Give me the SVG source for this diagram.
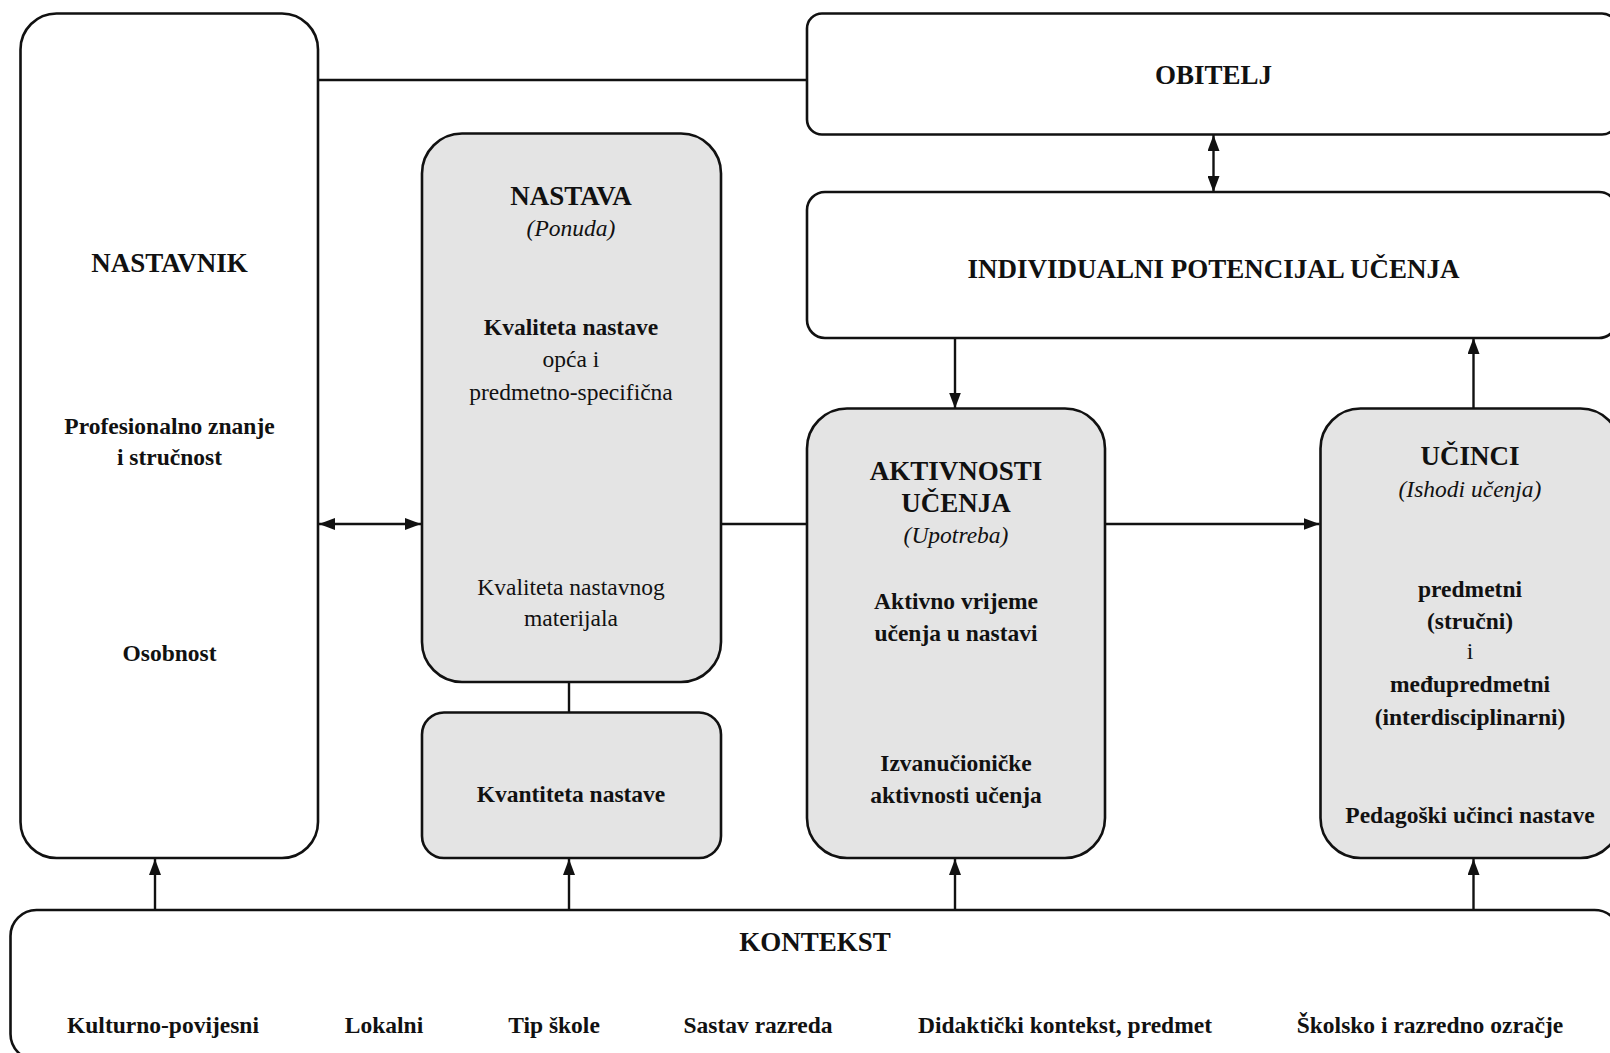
<svg xmlns="http://www.w3.org/2000/svg" width="1610" height="1053" viewBox="0 0 1610 1053">
  <defs>
    <marker id="arrow" viewBox="0 0 16 12" refX="16" refY="6" markerWidth="16" markerHeight="12" markerUnits="userSpaceOnUse" orient="auto-start-reverse">
      <path d="M0,0 L16,6 L0,12 z" fill="#111"/>
    </marker>
  </defs>
  <style>
    .box { fill: #ffffff; stroke: #111; stroke-width: 2.6; }
    .grey { fill: #e4e4e4; stroke: #111; stroke-width: 2.6; }
    .conn { stroke: #111; stroke-width: 2.4; fill: none; }
    text { font-family: "Liberation Serif", "Times New Roman", serif; fill: #111; text-anchor: middle; }
    .title { font-size: 27px; font-weight: bold; }
    .b { font-size: 23.5px; font-weight: bold; }
    .r { font-size: 23.5px; }
    .i { font-size: 23.5px; font-style: italic; }
  </style>

  <rect width="1610" height="1053" fill="#ffffff"/>

  <!-- connectors -->
  <g id="connectors">
    <line class="conn" x1="318" y1="80" x2="807" y2="80"/>
    <line class="conn" x1="1213.5" y1="135" x2="1213.5" y2="192" marker-start="url(#arrow)" marker-end="url(#arrow)"/>
    <line class="conn" x1="955" y1="338" x2="955" y2="408.5" marker-end="url(#arrow)"/>
    <line class="conn" x1="1473.5" y1="408.5" x2="1473.5" y2="338" marker-end="url(#arrow)"/>
    <line class="conn" x1="319" y1="524" x2="421" y2="524" marker-start="url(#arrow)" marker-end="url(#arrow)"/>
    <line class="conn" x1="721" y1="524" x2="807" y2="524"/>
    <line class="conn" x1="1105" y1="524" x2="1319.5" y2="524" marker-end="url(#arrow)"/>
    <line class="conn" x1="569" y1="682" x2="569" y2="712.5"/>
    <line class="conn" x1="155" y1="910" x2="155" y2="859" marker-end="url(#arrow)"/>
    <line class="conn" x1="569" y1="910" x2="569" y2="859" marker-end="url(#arrow)"/>
    <line class="conn" x1="955" y1="910" x2="955" y2="859" marker-end="url(#arrow)"/>
    <line class="conn" x1="1473.5" y1="910" x2="1473.5" y2="859" marker-end="url(#arrow)"/>
  </g>

  <!-- teacher -->
  <g id="nastavnik">
    <rect class="box" x="20.5" y="13.5" width="297.5" height="844.5" rx="36" ry="36"/>
    <text class="title" x="169.5" y="272">NASTAVNIK</text>
    <text class="b" x="169.5" y="433.5">Profesionalno znanje</text>
    <text class="b" x="169.5" y="465">i stručnost</text>
    <text class="b" x="169.5" y="661">Osobnost</text>
  </g>

  <!-- instruction (offer) -->
  <g id="nastava">
    <rect class="grey" x="422" y="133.5" width="299" height="548.5" rx="40" ry="40"/>
    <text class="title" x="571" y="204.5">NASTAVA</text>
    <text class="i" x="571" y="236">(Ponuda)</text>
    <text class="b" x="571" y="335">Kvaliteta nastave</text>
    <text class="r" x="571" y="366.5">opća i</text>
    <text class="r" x="571" y="399.5">predmetno-specifična</text>
    <text class="r" x="571" y="594.5">Kvaliteta nastavnog</text>
    <text class="r" x="571" y="626">materijala</text>
  </g>

  <g id="kvantiteta">
    <rect class="grey" x="422" y="712.5" width="299" height="145.5" rx="22" ry="22"/>
    <text class="b" x="571" y="802">Kvantiteta nastave</text>
  </g>

  <!-- family -->
  <g id="obitelj">
    <rect class="box" x="807" y="13.5" width="810" height="121" rx="15" ry="15"/>
    <text class="title" x="1213.5" y="84">OBITELJ</text>
  </g>

  <!-- individual learning potential -->
  <g id="potencijal">
    <rect class="box" x="807" y="192" width="810" height="146" rx="18" ry="18"/>
    <text class="title" x="1213.5" y="278">INDIVIDUALNI POTENCIJAL UČENJA</text>
  </g>

  <!-- learning activities (use) -->
  <g id="aktivnosti">
    <rect class="grey" x="807" y="408.5" width="298" height="449.5" rx="40" ry="40"/>
    <text class="title" x="956" y="479.5">AKTIVNOSTI</text>
    <text class="title" x="956" y="512">UČENJA</text>
    <text class="i" x="956" y="543">(Upotreba)</text>
    <text class="b" x="956" y="609">Aktivno vrijeme</text>
    <text class="b" x="956" y="641">učenja u nastavi</text>
    <text class="b" x="956" y="771">Izvanučioničke</text>
    <text class="b" x="956" y="803">aktivnosti učenja</text>
  </g>

  <!-- effects (learning outcomes) -->
  <g id="ucinci">
    <rect class="grey" x="1320.5" y="408.5" width="300" height="449.5" rx="40" ry="40"/>
    <text class="title" x="1470" y="465">UČINCI</text>
    <text class="i" x="1470" y="497">(Ishodi učenja)</text>
    <text class="b" x="1470" y="596.5">predmetni</text>
    <text class="b" x="1470" y="628.5">(stručni)</text>
    <text class="r" x="1470" y="659">i</text>
    <text class="b" x="1470" y="692">međupredmetni</text>
    <text class="b" x="1470" y="725">(interdisciplinarni)</text>
    <text class="b" x="1470" y="822.5">Pedagoški učinci nastave</text>
  </g>

  <!-- context -->
  <g id="kontekst">
    <rect class="box" x="10.5" y="910" width="1610" height="150" rx="26" ry="26"/>
    <text class="title" x="815" y="951">KONTEKST</text>
    <text class="b" x="163" y="1033">Kulturno-povijesni</text>
    <text class="b" x="384" y="1033">Lokalni</text>
    <text class="b" x="554" y="1033">Tip škole</text>
    <text class="b" x="758" y="1033">Sastav razreda</text>
    <text class="b" x="1065" y="1033">Didaktički kontekst, predmet</text>
    <text class="b" x="1430" y="1033">Školsko i razredno ozračje</text>
  </g>
</svg>
